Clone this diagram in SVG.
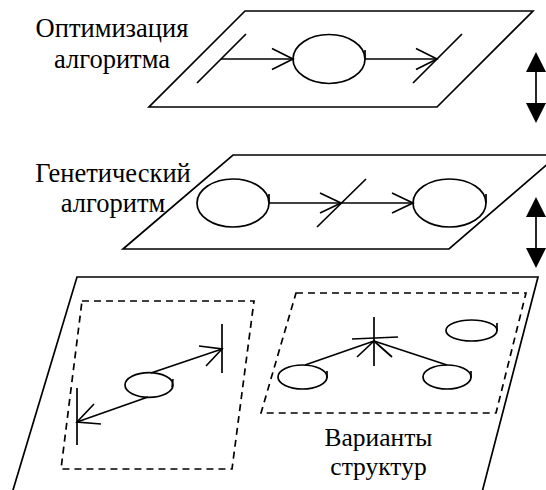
<svg xmlns="http://www.w3.org/2000/svg" width="546" height="490" viewBox="0 0 546 490">
<style>
.s{fill:none;stroke:#000;stroke-width:1.7;stroke-linecap:butt}
.p{fill:#fff;stroke:#000;stroke-width:1.7}
.d{fill:none;stroke:#000;stroke-width:1.7;stroke-dasharray:7,5}
.t{font-family:"Liberation Serif","Times New Roman",serif;font-size:26.5px;fill:#000;text-anchor:middle}
.f{fill:#000;stroke:none}
</style>
<rect width="546" height="490" fill="#fff"/>
<g id="plane-top">
<polygon class="p" points="245,11 533,11 437,107 149,107"/>
</g>
<g id="plane-mid">
<polygon class="p" points="233,155 558,155 449,249 123,249"/>
</g>
<g id="plane-bottom">
<polygon class="p" points="77,277 538,277 480,500 10,500"/>
</g>
<g id="label-opt">
<text class="t" x="112" y="37">Оптимизация</text>
<text class="t" x="112" y="68">алгоритма</text>
</g>
<g id="label-ga">
<text class="t" x="113" y="182">Генетический</text>
<text class="t" x="113" y="212">алгоритм</text>
</g>
<g id="label-var">
<text class="t" x="378.5" y="446" style="font-size:25.5px">Варианты</text>
<text class="t" x="378.5" y="475" style="font-size:25.5px">структур</text>
</g>
<g id="top-bar-left"><line class="s" x1="197" y1="83" x2="246" y2="34"/></g>
<g id="top-ellipse"><ellipse class="s" cx="329" cy="59" rx="36" ry="24.5"/><line class="s" x1="365" y1="50" x2="365" y2="59"/></g>
<g id="top-bar-right"><line class="s" x1="413" y1="83" x2="462" y2="34"/></g>
<g id="mid-ellipse-1"><ellipse class="s" cx="233" cy="203" rx="36" ry="24"/><line class="s" x1="269" y1="194" x2="269" y2="203"/></g>
<g id="mid-bar"><line class="s" x1="317" y1="227" x2="366" y2="179"/></g>
<g id="mid-ellipse-2"><ellipse class="s" cx="449.5" cy="203" rx="36.5" ry="24"/><line class="s" x1="486" y1="194" x2="486" y2="203"/></g>
<g id="box-left"><polygon class="d" points="82,301 254,301 232,469 61,469"/></g>
<g id="box-right"><polygon class="d" points="296,293 526,293 496,413 261,413"/></g>
<g id="bl-ellipse"><ellipse class="s" cx="149" cy="385" rx="24" ry="12.3"/><line class="s" x1="173" y1="379" x2="172" y2="387"/></g>
<g id="bl-bar-right"><line class="s" x1="222" y1="324" x2="222" y2="373"/></g>
<g id="bl-bar-left"><line class="s" x1="77" y1="388" x2="77" y2="445"/></g>
<g id="br-star">
<line class="s" x1="374" y1="317" x2="374" y2="366"/>
<line class="s" x1="352" y1="339" x2="398" y2="337"/>
<line class="s" x1="357" y1="357" x2="374" y2="341"/>
<line class="s" x1="392" y1="357" x2="374" y2="341"/>
</g>
<g id="br-ellipse-left"><ellipse class="s" cx="302.5" cy="377" rx="24.5" ry="12"/><line class="s" x1="327" y1="371" x2="327" y2="378"/></g>
<g id="br-ellipse-right"><ellipse class="s" cx="447" cy="377" rx="24" ry="12"/><line class="s" x1="471" y1="371" x2="471" y2="378"/></g>
<g id="br-ellipse-top"><ellipse class="s" cx="471.5" cy="330.5" rx="25.5" ry="10.5"/><line class="s" x1="497" y1="323" x2="497" y2="331"/></g>
<g id="connectors">
<line class="s" x1="221" y1="59" x2="293" y2="59"/>
<polyline class="s" points="272,48.5 293,59 272,69.5"/>
<line class="s" x1="365" y1="59" x2="437" y2="59"/>
<polyline class="s" points="416,48.5 437,59 416,69.5"/>
<line class="s" x1="269" y1="203" x2="341" y2="203"/>
<polyline class="s" points="320,193 341,203 320,213"/>
<line class="s" x1="341" y1="203" x2="413" y2="203"/>
<polyline class="s" points="392,193 413,203 392,213"/>
<line class="s" x1="151" y1="373" x2="222" y2="349"/>
<polyline class="s" points="199,346 222,349 206,366"/>
<line class="s" x1="148" y1="397" x2="77" y2="422"/>
<polyline class="s" points="94,404 77,422 101,424"/>
<line class="s" x1="374" y1="341" x2="305" y2="365"/>
<line class="s" x1="374" y1="341" x2="447" y2="365"/>
<line class="s" x1="536" y1="70" x2="536" y2="105"/>
<polygon class="f" points="536,52 546,72 526,72"/>
<polygon class="f" points="536,123 546,103 526,103"/>
<line class="s" x1="536" y1="215" x2="536" y2="250"/>
<polygon class="f" points="536,197 546,217 526,217"/>
<polygon class="f" points="536,268 546,248 526,248"/>
</g>
</svg>
